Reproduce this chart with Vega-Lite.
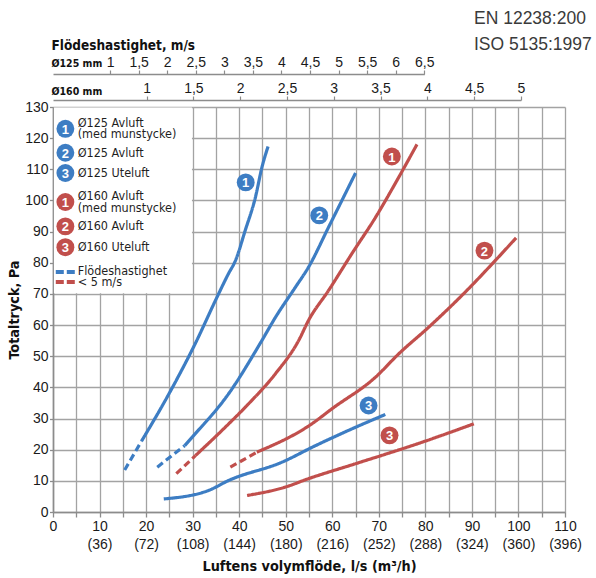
{
  "$schema": "https://vega.github.io/schema/vega-lite/v6.json",
  "width": 512,
  "height": 405,
  "padding": {"left": 7, "top": 10, "right": 0, "bottom": 0},
  "title": {
    "text": "EN 12238:200",
    "subtitle": "ISO 5135:1997",
    "anchor": "start",
    "frame": "group",
    "dx": 421,
    "offset": -15,
    "font": "Liberation Sans",
    "fontSize": 17.5,
    "fontWeight": "normal",
    "color": "#3a3a3a",
    "subtitleFont": "Liberation Sans",
    "subtitleFontSize": 17.5,
    "subtitleColor": "#3a3a3a",
    "subtitlePadding": 8
  },
  "datasets": {
    "curves": [
      {"series": "Ø125 Avluft (med munstycke)", "dia": "Ø125", "seg": "dashed", "flow": 15.4, "pressure": 13.5},
      {"series": "Ø125 Avluft (med munstycke)", "dia": "Ø125", "seg": "dashed", "flow": 19.0, "pressure": 22.7},
      {"series": "Ø125 Avluft (med munstycke)", "dia": "Ø125", "seg": "solid", "flow": 19.0, "pressure": 22.7},
      {"series": "Ø125 Avluft (med munstycke)", "dia": "Ø125", "seg": "solid", "flow": 24.9, "pressure": 37.9},
      {"series": "Ø125 Avluft (med munstycke)", "dia": "Ø125", "seg": "solid", "flow": 30.9, "pressure": 55.1},
      {"series": "Ø125 Avluft (med munstycke)", "dia": "Ø125", "seg": "solid", "flow": 34.9, "pressure": 67.9},
      {"series": "Ø125 Avluft (med munstycke)", "dia": "Ø125", "seg": "solid", "flow": 37.7, "pressure": 76.5},
      {"series": "Ø125 Avluft (med munstycke)", "dia": "Ø125", "seg": "solid", "flow": 39.2, "pressure": 80.7},
      {"series": "Ø125 Avluft (med munstycke)", "dia": "Ø125", "seg": "solid", "flow": 41.3, "pressure": 90.4},
      {"series": "Ø125 Avluft (med munstycke)", "dia": "Ø125", "seg": "solid", "flow": 43.5, "pressure": 101.1},
      {"series": "Ø125 Avluft (med munstycke)", "dia": "Ø125", "seg": "solid", "flow": 44.9, "pressure": 110.7},
      {"series": "Ø125 Avluft (med munstycke)", "dia": "Ø125", "seg": "solid", "flow": 46.2, "pressure": 117.3},

      {"series": "Ø125 Avluft", "dia": "Ø125", "seg": "dashed", "flow": 22.4, "pressure": 14.4},
      {"series": "Ø125 Avluft", "dia": "Ø125", "seg": "dashed", "flow": 28.3, "pressure": 21.3},
      {"series": "Ø125 Avluft", "dia": "Ø125", "seg": "solid", "flow": 28.3, "pressure": 21.3},
      {"series": "Ø125 Avluft", "dia": "Ø125", "seg": "solid", "flow": 29.9, "pressure": 24.0},
      {"series": "Ø125 Avluft", "dia": "Ø125", "seg": "solid", "flow": 37.7, "pressure": 37.9},
      {"series": "Ø125 Avluft", "dia": "Ø125", "seg": "solid", "flow": 44.9, "pressure": 55.1},
      {"series": "Ø125 Avluft", "dia": "Ø125", "seg": "solid", "flow": 47.8, "pressure": 62.5},
      {"series": "Ø125 Avluft", "dia": "Ø125", "seg": "solid", "flow": 52.1, "pressure": 72.2},
      {"series": "Ø125 Avluft", "dia": "Ø125", "seg": "solid", "flow": 54.9, "pressure": 78.6},
      {"series": "Ø125 Avluft", "dia": "Ø125", "seg": "solid", "flow": 59.2, "pressure": 91.4},
      {"series": "Ø125 Avluft", "dia": "Ø125", "seg": "solid", "flow": 65.0, "pressure": 108.8},

      {"series": "Ø125 Uteluft", "dia": "Ø125", "seg": "solid", "flow": 23.8, "pressure": 4.2},
      {"series": "Ø125 Uteluft", "dia": "Ø125", "seg": "solid", "flow": 33.4, "pressure": 6.9},
      {"series": "Ø125 Uteluft", "dia": "Ø125", "seg": "solid", "flow": 37.7, "pressure": 10.1},
      {"series": "Ø125 Uteluft", "dia": "Ø125", "seg": "solid", "flow": 49.2, "pressure": 16.0},
      {"series": "Ø125 Uteluft", "dia": "Ø125", "seg": "solid", "flow": 56.4, "pressure": 21.3},
      {"series": "Ø125 Uteluft", "dia": "Ø125", "seg": "solid", "flow": 65.0, "pressure": 27.2},
      {"series": "Ø125 Uteluft", "dia": "Ø125", "seg": "solid", "flow": 71.4, "pressure": 31.3},

      {"series": "Ø160 Avluft (med munstycke)", "dia": "Ø160", "seg": "dashed", "flow": 26.5, "pressure": 12.3},
      {"series": "Ø160 Avluft (med munstycke)", "dia": "Ø160", "seg": "dashed", "flow": 30.6, "pressure": 18.1},
      {"series": "Ø160 Avluft (med munstycke)", "dia": "Ø160", "seg": "solid", "flow": 30.6, "pressure": 18.1},
      {"series": "Ø160 Avluft (med munstycke)", "dia": "Ø160", "seg": "solid", "flow": 37.0, "pressure": 27.2},
      {"series": "Ø160 Avluft (med munstycke)", "dia": "Ø160", "seg": "solid", "flow": 42.0, "pressure": 34.7},
      {"series": "Ø160 Avluft (med munstycke)", "dia": "Ø160", "seg": "solid", "flow": 47.8, "pressure": 44.4},
      {"series": "Ø160 Avluft (med munstycke)", "dia": "Ø160", "seg": "solid", "flow": 52.8, "pressure": 55.1},
      {"series": "Ø160 Avluft (med munstycke)", "dia": "Ø160", "seg": "solid", "flow": 54.9, "pressure": 61.5},
      {"series": "Ø160 Avluft (med munstycke)", "dia": "Ø160", "seg": "solid", "flow": 59.2, "pressure": 71.1},
      {"series": "Ø160 Avluft (med munstycke)", "dia": "Ø160", "seg": "solid", "flow": 64.2, "pressure": 82.9},
      {"series": "Ø160 Avluft (med munstycke)", "dia": "Ø160", "seg": "solid", "flow": 69.3, "pressure": 94.6},
      {"series": "Ø160 Avluft (med munstycke)", "dia": "Ø160", "seg": "solid", "flow": 74.3, "pressure": 107.5},
      {"series": "Ø160 Avluft (med munstycke)", "dia": "Ø160", "seg": "solid", "flow": 78.2, "pressure": 118.0},

      {"series": "Ø160 Avluft", "dia": "Ø160", "seg": "dashed", "flow": 38.1, "pressure": 14.4},
      {"series": "Ø160 Avluft", "dia": "Ø160", "seg": "dashed", "flow": 43.8, "pressure": 19.2},
      {"series": "Ø160 Avluft", "dia": "Ø160", "seg": "solid", "flow": 43.8, "pressure": 19.2},
      {"series": "Ø160 Avluft", "dia": "Ø160", "seg": "solid", "flow": 55.6, "pressure": 28.3},
      {"series": "Ø160 Avluft", "dia": "Ø160", "seg": "solid", "flow": 59.9, "pressure": 33.1},
      {"series": "Ø160 Avluft", "dia": "Ø160", "seg": "solid", "flow": 69.3, "pressure": 43.3},
      {"series": "Ø160 Avluft", "dia": "Ø160", "seg": "solid", "flow": 74.3, "pressure": 50.8},
      {"series": "Ø160 Avluft", "dia": "Ø160", "seg": "solid", "flow": 80.7, "pressure": 59.3},
      {"series": "Ø160 Avluft", "dia": "Ø160", "seg": "solid", "flow": 89.3, "pressure": 71.7},
      {"series": "Ø160 Avluft", "dia": "Ø160", "seg": "solid", "flow": 94.7, "pressure": 80.2},
      {"series": "Ø160 Avluft", "dia": "Ø160", "seg": "solid", "flow": 99.5, "pressure": 88.0},

      {"series": "Ø160 Uteluft", "dia": "Ø160", "seg": "solid", "flow": 41.7, "pressure": 5.3},
      {"series": "Ø160 Uteluft", "dia": "Ø160", "seg": "solid", "flow": 49.9, "pressure": 8.0},
      {"series": "Ø160 Uteluft", "dia": "Ø160", "seg": "solid", "flow": 54.9, "pressure": 10.7},
      {"series": "Ø160 Uteluft", "dia": "Ø160", "seg": "solid", "flow": 65.0, "pressure": 15.5},
      {"series": "Ø160 Uteluft", "dia": "Ø160", "seg": "solid", "flow": 79.3, "pressure": 22.4},
      {"series": "Ø160 Uteluft", "dia": "Ø160", "seg": "solid", "flow": 90.4, "pressure": 28.3}
    ],
    "badges": [
      {"num": "1", "dia": "Ø125", "flow": 41.4, "pressure": 105.8},
      {"num": "2", "dia": "Ø125", "flow": 57.2, "pressure": 95.2},
      {"num": "3", "dia": "Ø125", "flow": 67.8, "pressure": 34.2},
      {"num": "1", "dia": "Ø160", "flow": 72.8, "pressure": 114.1},
      {"num": "2", "dia": "Ø160", "flow": 92.7, "pressure": 83.9},
      {"num": "3", "dia": "Ø160", "flow": 72.3, "pressure": 24.6},
      {"num": "1", "dia": "Ø125", "flow": 2.66, "pressure": 123.0},
      {"num": "2", "dia": "Ø125", "flow": 2.66, "pressure": 115.3},
      {"num": "3", "dia": "Ø125", "flow": 2.66, "pressure": 108.8},
      {"num": "1", "dia": "Ø160", "flow": 2.66, "pressure": 99.5},
      {"num": "2", "dia": "Ø160", "flow": 2.66, "pressure": 91.7},
      {"num": "3", "dia": "Ø160", "flow": 2.66, "pressure": 85.0}
    ],
    "legendText": [
      {"text": "Ø125 Avluft", "flow": 5.3, "pressure": 124.9},
      {"text": "(med munstycke)", "flow": 5.3, "pressure": 121.3},
      {"text": "Ø125 Avluft", "flow": 5.3, "pressure": 115.3},
      {"text": "Ø125 Uteluft", "flow": 5.3, "pressure": 108.8},
      {"text": "Ø160 Avluft", "flow": 5.3, "pressure": 101.3},
      {"text": "(med munstycke)", "flow": 5.3, "pressure": 97.6},
      {"text": "Ø160 Avluft", "flow": 5.3, "pressure": 91.7},
      {"text": "Ø160 Uteluft", "flow": 5.3, "pressure": 85.0},
      {"text": "Flödeshastighet", "flow": 5.3, "pressure": 77.3},
      {"text": "< 5 m/s", "flow": 5.3, "pressure": 73.9}
    ],
    "legendDash": [
      {"dia": "Ø125", "flow": 0.6, "flow2": 4.7, "pressure": 77.0},
      {"dia": "Ø160", "flow": 0.6, "flow2": 4.7, "pressure": 73.8}
    ]
  },
  "layer": [
    {
      "data": {"name": "curves"},
      "mark": {"type": "line", "strokeWidth": 3.2, "interpolate": "monotone", "strokeCap": "butt"},
      "encoding": {
        "x": {
          "field": "flow", "type": "quantitative",
          "scale": {"domain": [0, 110], "nice": false, "zero": false},
          "axis": {
            "orient": "bottom",
            "values": [0, 5, 10, 15, 20, 25, 30, 35, 40, 45, 50, 55, 60, 65, 70, 75, 80, 85, 90, 95, 100, 105, 110],
            "grid": true,
            "gridColor": "#a3a3a3",
            "gridWidth": 1.3,
            "domainColor": "#8c8c8c",
            "domainWidth": 1.6,
            "tickColor": "#8c8c8c",
            "tickWidth": 1.3,
            "tickSize": 5,
            "labelExpr": "datum.value % 10 != 0 ? '' : (datum.value == 0 ? '0' : [datum.label, '(' + round(datum.value * 3.6) + ')'])",
            "labelFont": "Liberation Sans",
            "labelFontSize": 14,
            "labelColor": "#1a1a1a",
            "labelPadding": 2,
            "labelLineHeight": 18,
            "labelOverlap": false,
            "labelFlush": false,
            "title": "Luftens volymflöde, l/s (m³/h)",
            "titleFont": "DejaVu Sans Condensed, sans-serif",
            "titleFontSize": 14.3,
            "titleFontWeight": "bold",
            "titleColor": "#111",
            "titlePadding": 8
          }
        },
        "y": {
          "field": "pressure", "type": "quantitative",
          "scale": {"domain": [0, 130], "nice": false, "zero": false},
          "axis": {
            "orient": "left",
            "values": [0, 10, 20, 30, 40, 50, 60, 70, 80, 90, 100, 110, 120, 130],
            "grid": true,
            "gridColor": "#a3a3a3",
            "gridWidth": 1.3,
            "domainColor": "#8c8c8c",
            "domainWidth": 1.6,
            "tickColor": "#8c8c8c",
            "tickWidth": 1.3,
            "tickSize": 3.5,
            "labelFont": "Liberation Sans",
            "labelFontSize": 14,
            "labelColor": "#1a1a1a",
            "labelPadding": 1.5,
            "labelFlush": false,
            "labelOverlap": false,
            "title": "Totaltryck, Pa",
            "titleFont": "DejaVu Sans Condensed, sans-serif",
            "titleFontSize": 14.3,
            "titleFontWeight": "bold",
            "titleColor": "#111",
            "titlePadding": 3
          }
        },
        "color": {
          "field": "dia", "type": "nominal",
          "scale": {"domain": ["Ø125", "Ø160"], "range": ["#3d7dc3", "#c14f4c"]},
          "legend": null
        },
        "strokeDash": {
          "field": "seg", "type": "nominal",
          "scale": {"domain": ["solid", "dashed"], "range": [[1, 0], [7, 4]]},
          "legend": null
        },
        "detail": {"field": "series"}
      }
    },
    {
      "data": {"values": [{}]},
      "mark": {"type": "rect", "color": "white"},
      "encoding": {
        "x": {"datum": 0.2, "type": "quantitative", "axis": null},
        "x2": {"datum": 29.85},
        "y": {"datum": 70.25, "type": "quantitative", "axis": null},
        "y2": {"datum": 129.8}
      }
    },
    {
      "data": {"name": "legendDash"},
      "mark": {"type": "rule", "strokeWidth": 4, "strokeDash": [8, 3]},
      "encoding": {
        "x": {"field": "flow", "type": "quantitative", "axis": null},
        "x2": {"field": "flow2"},
        "y": {"field": "pressure", "type": "quantitative", "axis": null},
        "color": {"field": "dia", "type": "nominal", "legend": null}
      }
    },
    {
      "data": {"name": "badges"},
      "mark": {"type": "point", "shape": "circle", "filled": true, "opacity": 1, "size": 320},
      "encoding": {
        "x": {"field": "flow", "type": "quantitative", "axis": null},
        "y": {"field": "pressure", "type": "quantitative", "axis": null},
        "color": {"field": "dia", "type": "nominal", "legend": null}
      }
    },
    {
      "data": {"name": "badges"},
      "mark": {"type": "text", "color": "white", "fontWeight": "bold", "fontSize": 13, "font": "Liberation Sans", "align": "center", "baseline": "middle", "dy": 1},
      "encoding": {
        "x": {"field": "flow", "type": "quantitative", "axis": null},
        "y": {"field": "pressure", "type": "quantitative", "axis": null},
        "text": {"field": "num"}
      }
    },
    {
      "data": {"name": "legendText"},
      "mark": {"type": "text", "color": "#1f1f1f", "fontSize": 12.5, "font": "DejaVu Sans Condensed, sans-serif", "align": "left", "baseline": "middle"},
      "encoding": {
        "x": {"field": "flow", "type": "quantitative", "axis": null},
        "y": {"field": "pressure", "type": "quantitative", "axis": null},
        "text": {"field": "text"}
      }
    },
    {
      "data": {"values": [{}]},
      "mark": {"type": "rule", "opacity": 0},
      "encoding": {
        "x": {
          "datum": 0, "type": "quantitative",
          "axis": {
            "orient": "top",
            "offset": 33,
            "values": [12.2718, 18.4078, 24.5437, 30.6796, 36.8155, 42.9515, 49.0874, 55.2233, 61.3592, 67.4952, 73.6311, 79.767],
            "grid": false,
            "domainColor": "#8c8c8c",
            "domainWidth": 1.3,
            "domainDash": [371.3, 600],
            "tickColor": "#8c8c8c",
            "tickWidth": 1.2,
            "tickSize": 4,
            "labelExpr": "replace(format(datum.value / 12.2718, '.1~f'), '.', ',')",
            "labelFont": "Liberation Sans",
            "labelFontSize": 14,
            "labelColor": "#1a1a1a",
            "labelPadding": 1,
            "labelOverlap": false,
            "labelFlush": false,
            "title": "Ø125 mm",
            "titleFont": "DejaVu Sans Condensed, sans-serif",
            "titleFontSize": 10.5,
            "titleFontWeight": "bold",
            "titleColor": "#111",
            "titleAngle": 0,
            "titleAlign": "left",
            "titleBaseline": "middle",
            "titleX": -2,
            "titleY": -11
          }
        }
      }
    },
    {
      "data": {"values": [{}]},
      "mark": {"type": "rule", "opacity": 0},
      "encoding": {
        "x": {
          "datum": 0, "type": "quantitative",
          "axis": {
            "orient": "top",
            "offset": 7,
            "values": [20.1062, 30.1593, 40.2124, 50.2655, 60.3186, 70.3717, 80.4248, 90.4779, 100.531],
            "grid": false,
            "domainColor": "#8c8c8c",
            "domainWidth": 1.3,
            "domainDash": [467.9, 600],
            "tickColor": "#8c8c8c",
            "tickWidth": 1.2,
            "tickSize": 4,
            "labelExpr": "replace(format(datum.value / 20.1062, '.1~f'), '.', ',')",
            "labelFont": "Liberation Sans",
            "labelFontSize": 14,
            "labelColor": "#1a1a1a",
            "labelPadding": 1,
            "labelOverlap": false,
            "labelFlush": false,
            "title": "Ø160 mm",
            "titleFont": "DejaVu Sans Condensed, sans-serif",
            "titleFontSize": 10.5,
            "titleFontWeight": "bold",
            "titleColor": "#111",
            "titleAngle": 0,
            "titleAlign": "left",
            "titleBaseline": "middle",
            "titleX": -2,
            "titleY": -9
          }
        }
      }
    },
    {
      "data": {"values": [{}]},
      "mark": {"type": "rule", "opacity": 0},
      "encoding": {
        "x": {
          "datum": 0, "type": "quantitative",
          "axis": {
            "orient": "top",
            "offset": 33,
            "grid": false,
            "domain": false,
            "ticks": false,
            "labels": false,
            "title": "Flödeshastighet, m/s",
            "titleFont": "DejaVu Sans Condensed, sans-serif",
            "titleFontSize": 13.5,
            "titleFontWeight": "bold",
            "titleColor": "#111",
            "titleAngle": 0,
            "titleAlign": "left",
            "titleBaseline": "middle",
            "titleX": -2,
            "titleY": -29
          }
        }
      }
    }
  ],
  "resolve": {"axis": {"x": "independent", "y": "independent"}},
  "config": {
    "view": {"stroke": null},
    "font": "DejaVu Sans Condensed, sans-serif"
  }
}
